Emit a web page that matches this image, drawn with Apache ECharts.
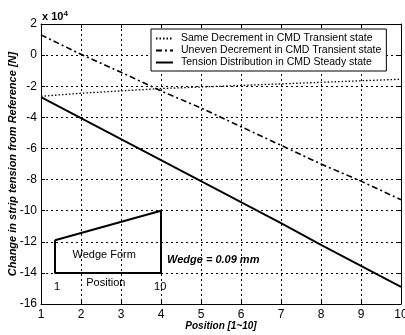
<!DOCTYPE html>
<html><head><meta charset="utf-8">
<script src="https://cdn.jsdelivr.net/npm/echarts@6/dist/echarts.min.js"></script>
<style>html,body{margin:0;padding:0;background:#fff}#c{width:405px;height:335px}</style>
</head><body><div id="c"></div>
<script>
const positions = [1,2,3,4,5,6,7,8,9,10];
const sameDecrement = [-2.65,-2.45,-2.3,-2.15,-2.05,-1.95,-1.85,-1.75,-1.65,-1.55];
const unevenDecrement = [1.3,0.05,-1.1,-2.3,-3.4,-4.6,-5.8,-7.0,-8.1,-9.3];
const steadyState = [-2.7,-4.05,-5.4,-6.75,-8.1,-9.45,-10.8,-12.2,-13.55,-14.9];
const wedgeOutline = [[1.35,-11.9],[4,-10],[4,-14],[1.35,-14],[1.35,-11.9]];
const annotations = [
  {value:[2.58,-12.85], text:'Wedge Form', align:'center', bold:false},
  {value:[1.4,-14.9], text:'1', align:'center', bold:false},
  {value:[2.62,-14.65], text:'Position', align:'center', bold:false},
  {value:[3.98,-14.9], text:'10', align:'center', bold:false},
  {value:[4.15,-13.17], text:'Wedge = 0.09 mm', align:'left', bold:true}
];
const seriesNames = ['Same Decrement in CMD Transient state','Uneven Decrement in CMD Transient state','Tension Distribution in CMD Steady state'];

const font = 'Liberation Sans, Arial, sans-serif';
const chart = echarts.init(document.getElementById('c'));
const gridLine = {show:true, lineStyle:{color:'#000', type:[2,3], width:1}};
const axisLineStyle = {onZero:false, lineStyle:{color:'#000', width:1}};
chart.setOption({
  animation:false,
  title:{
    text:'{a|x 10}{b|4}', left:42, top:10, padding:0,
    textStyle:{rich:{a:{fontSize:11,fontFamily:font,color:'#000'},b:{fontSize:8,fontFamily:font,color:'#000',verticalAlign:'top',padding:[0,0,6,0]}}}
  },
  legend:{
    data:seriesNames, orient:'vertical', left:151, top:29,
    padding:[4,5,3,4], itemGap:1, itemWidth:17, itemHeight:10,
    itemStyle:{opacity:0},
    backgroundColor:'#fff', borderColor:'#000', borderWidth:1, borderRadius:0,
    textStyle:{fontSize:10.5, fontFamily:font, color:'#000', padding:[0,0,0,3]}
  },
  grid:{left:41, right:4, top:24, bottom:31, outerBoundsMode:'none', containLabel:false},
  xAxis:[{
    type:'value', min:1, max:10, interval:1,
    name:'Position [1~10]', nameLocation:'middle', nameGap:17, nameMoveOverlap:false,
    nameTextStyle:{fontSize:10, fontWeight:'bold', fontStyle:'italic', fontFamily:font, color:'#000'},
    axisLine:axisLineStyle,
    axisTick:{inside:true, length:4, lineStyle:{color:'#000'}},
    axisLabel:{fontSize:12, fontFamily:font, color:'#000', margin:5},
    splitLine:gridLine
  },{
    type:'value', min:1, max:10, interval:1, position:'top',
    axisLine:axisLineStyle,
    axisTick:{inside:true, length:4, lineStyle:{color:'#000'}},
    axisLabel:{show:false}, splitLine:{show:false}
  }],
  yAxis:[{
    type:'value', min:-16, max:2, interval:2,
    name:'Change in strip tension from Reference [N]', nameLocation:'middle', nameGap:23, nameMoveOverlap:false,
    nameTextStyle:{fontSize:11, fontWeight:'bold', fontStyle:'italic', fontFamily:font, color:'#000'},
    axisLine:axisLineStyle,
    axisTick:{inside:true, length:4, lineStyle:{color:'#000'}},
    axisLabel:{fontSize:12, fontFamily:font, color:'#000', margin:4},
    splitLine:gridLine
  },{
    type:'value', min:-16, max:2, interval:2, position:'right',
    axisLine:axisLineStyle,
    axisTick:{inside:true, length:4, lineStyle:{color:'#000'}},
    axisLabel:{show:false}, splitLine:{show:false}
  }],
  series:[
    {name:seriesNames[0], type:'line', symbol:'none', data:positions.map((p,i)=>[p,sameDecrement[i]]),
     lineStyle:{color:'#000', width:1.3, type:[1.5,2]}, itemStyle:{color:'#000'}},
    {name:seriesNames[1], type:'line', symbol:'none', data:positions.map((p,i)=>[p,unevenDecrement[i]]),
     lineStyle:{color:'#000', width:1.6, type:[6,3,2,3]}, itemStyle:{color:'#000'}},
    {name:seriesNames[2], type:'line', symbol:'none', data:positions.map((p,i)=>[p,steadyState[i]]),
     lineStyle:{color:'#000', width:1.8, type:'solid'}, itemStyle:{color:'#000'}},
    {name:'wedge', type:'line', symbol:'none', data:wedgeOutline,
     lineStyle:{color:'#000', width:2}, itemStyle:{color:'#000'}, silent:true},
    {name:'notes', type:'scatter', symbolSize:0, silent:true, itemStyle:{color:'#000', opacity:1},
     data:annotations.map(a=>({value:a.value, label:{show:true, position:'inside', formatter:a.text, align:a.align,
       textBorderWidth:0, opacity:1,
       fontSize:11, fontWeight:a.bold?'bold':'normal', fontStyle:a.bold?'italic':'normal', fontFamily:font, color:'#000'}}))}
  ]
});
</script></body></html>
